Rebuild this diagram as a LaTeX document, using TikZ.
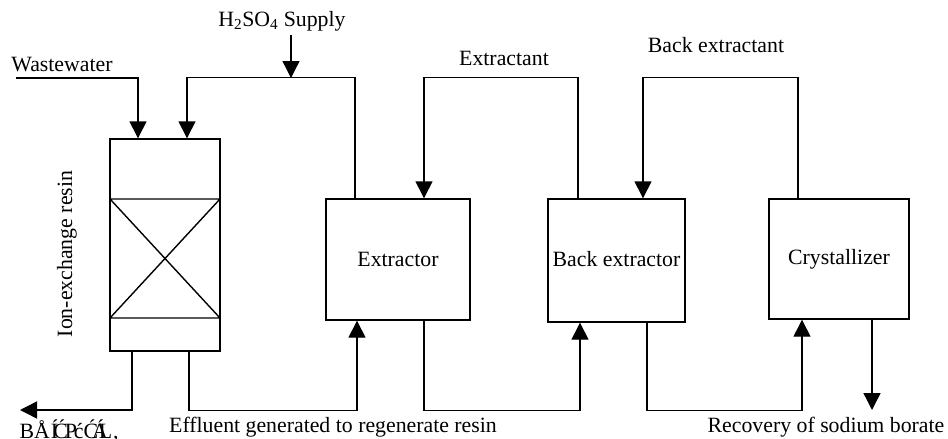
\documentclass[tikz,border=0pt]{standalone}
\usepackage{fontspec}
\setmainfont{Liberation Serif}
\usetikzlibrary{arrows.meta}
\begin{document}
\begin{tikzpicture}[x=1pt,y=-1pt,
  line width=1.4pt,
  arr/.style={-{Triangle[length=17pt,width=17pt]}},
  unit/.style={draw,line width=1.4pt,inner sep=0pt,font=\fontsize{21.8}{24}\selectfont},
  lbl/.style={inner sep=0pt,font=\fontsize{21.8}{24}\selectfont}]
\useasboundingbox (0,0) rectangle (948,439);
% column
\node[draw,line width=1.4pt,minimum width=110pt,minimum height=212pt,inner sep=0pt] (col) at (165,245) {};
\coordinate (d1) at (110,199);
\coordinate (d2) at (220,199);
\coordinate (d3) at (110,318);
\coordinate (d4) at (220,318);
\draw (d1) -- (d2) (d3) -- (d4) (d1) -- (d4) (d2) -- (d3);
% units
\node[unit,minimum width=144pt,minimum height=121pt] (ext) at (398,259.5) {Extractor};
\node[unit,minimum width=137pt,minimum height=123pt] (bext) at (616.5,260.5) {\raisebox{3pt}{Back extractor}};
\node[unit,minimum width=140pt,minimum height=120pt] (cry) at (839,259) {\raisebox{3pt}{Crystallizer}};
% labels
\node[lbl,anchor=base] (ww) at (62,71) {Wastewater};
\node[lbl,anchor=base] (h2) at (282,26) {H\textsubscript{2}SO\textsubscript{4} Supply};
\node[lbl,anchor=base] (xt) at (504,65) {Extractant};
\node[lbl,anchor=base] (bxt) at (716,52) {Back extractant};
\node[lbl,anchor=base] (eff) at (333,432) {Effluent generated to regenerate resin};
\node[lbl,anchor=base] (rec) at (826,432) {Recovery of sodium borate};
\node[lbl,rotate=90] (ion) at (67,254) {Ion-exchange resin};
\node[lbl,anchor=base west] (gb) at (19,438) {B\kern0ptÅ\kern1ptÍ\kern-5ptĆ\kern-3ptP\kern-3ptć\kern0ptĆ\kern-6ptÁ\kern-9ptL\kern1pt,};
% top connectors
\coordinate (wwin) at (16,78);
\draw[arr] (wwin) -| ([xshift=-27pt]col.north);
\draw[arr] ([xshift=-43pt]ext.north) -- ++(0,-121) -| ([xshift=22pt]col.north);
\coordinate (h2s) at (291,35);
\coordinate (h2j) at (291,78);
\draw[arr] (h2s) -- (h2j);
\draw[arr] ([xshift=-38.5pt]bext.north) -- ++(0,-121) -| ([xshift=26pt]ext.north);
\draw[arr] ([xshift=-41pt]cry.north) -- ++(0,-121) -| ([xshift=26.5pt]bext.north);
% bottom connectors
\coordinate (out) at (20,410);
\draw[arr] ([xshift=-33pt]col.south) |- (out);
\draw[arr] ([xshift=24pt]col.south) -- ++(0,59) -| ([xshift=-41pt]ext.south);
\draw[arr] ([xshift=26pt]ext.south) -- ++(0,90) -| ([xshift=-36.5pt]bext.south);
\draw[arr] ([xshift=30.5pt]bext.south) -- ++(0,88) -| ([xshift=-37pt]cry.south);
\coordinate (recp) at (872,410);
\draw[arr] ([xshift=33pt]cry.south) -- (recp);
\end{tikzpicture}
\end{document}
